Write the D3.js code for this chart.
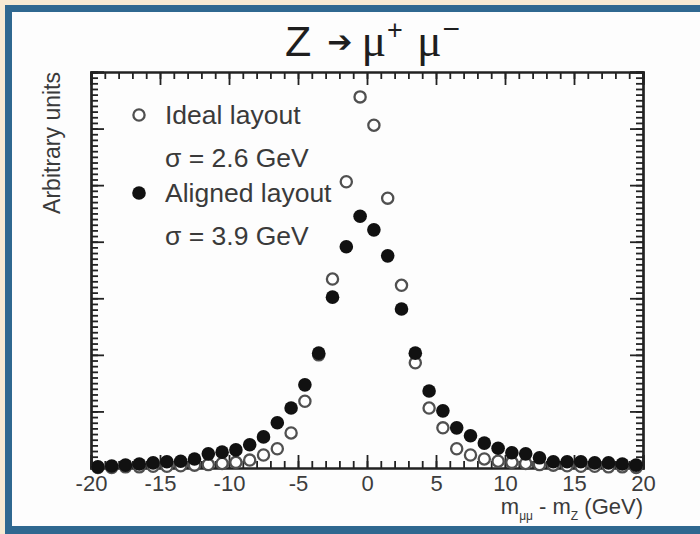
<!DOCTYPE html>
<html>
<head>
<meta charset="utf-8">
<script src="https://cdn.jsdelivr.net/npm/d3@7/dist/d3.min.js"></script>
<style>
  html, body { margin: 0; padding: 0; background: #f6ead3; }
  svg { display: block; }
  .axis path, .axis line { stroke: #222; }
</style>
</head>
<body>
<div id="chart"></div>
<script>
// ---------- data ----------
const binCenters = [-19.5, -18.5, -17.5, -16.5, -15.5, -14.5, -13.5, -12.5, -11.5, -10.5,
  -9.5, -8.5, -7.5, -6.5, -5.5, -4.5, -3.5, -2.5, -1.5, -0.5,
  0.5, 1.5, 2.5, 3.5, 4.5, 5.5, 6.5, 7.5, 8.5, 9.5,
  10.5, 11.5, 12.5, 13.5, 14.5, 15.5, 16.5, 17.5, 18.5, 19.5];

const idealCounts = [0.01, 0.01, 0.02, 0.02, 0.03, 0.03, 0.04, 0.05, 0.06, 0.08,
  0.10, 0.14, 0.23, 0.34, 0.62, 1.18, 2.00, 3.34, 5.06, 6.56,
  6.06, 4.77, 3.23, 1.86, 1.06, 0.71, 0.34, 0.23, 0.16, 0.12,
  0.10, 0.08, 0.06, 0.05, 0.04, 0.03, 0.03, 0.02, 0.02, 0.01];

const alignedCounts = [0.02, 0.035, 0.05, 0.07, 0.09, 0.11, 0.12, 0.16, 0.25, 0.28,
  0.32, 0.41, 0.55, 0.80, 1.06, 1.47, 2.03, 3.02, 3.91, 4.45,
  4.21, 3.75, 2.81, 2.03, 1.36, 1.01, 0.71, 0.57, 0.44, 0.35,
  0.27, 0.25, 0.18, 0.11, 0.11, 0.11, 0.09, 0.09, 0.07, 0.05];

const xMajorTicks = [-20, -15, -10, -5, 0, 5, 10, 15, 20];
const yMajorTicks = [0, 1, 2, 3, 4, 5, 6, 7];

const legendItems = [
  { label: 'Ideal layout', sigma: 'σ = 2.6 GeV', filled: false },
  { label: 'Aligned layout', sigma: 'σ = 3.9 GeV', filled: true }
];

// ---------- layout ----------
const W = 700, H = 534;
const plot = { left: 91, right: 643, top: 72, bottom: 468 };
const FONT = '"Liberation Sans", Arial, Helvetica, sans-serif';
const SERIF = '"Liberation Serif", "Times New Roman", serif';

const svg = d3.select('#chart').append('svg')
  .attr('width', W).attr('height', H);

// background card: beige page, blue frame, white panel
svg.append('rect').attr('width', W).attr('height', H).attr('fill', '#f6ead3');
svg.append('rect').attr('x', 5).attr('y', 5).attr('width', W).attr('height', H)
  .attr('fill', '#2f6890');
svg.append('rect').attr('x', 12).attr('y', 12).attr('width', W).attr('height', 514)
  .attr('fill', '#fdfdfd');

const x = d3.scaleLinear().domain([-20, 20]).range([plot.left, plot.right]);
const y = d3.scaleLinear().domain([0, 7]).range([plot.bottom, plot.top]);

const xMinor = d3.range(-20, 21, 1);
const yMinor = d3.range(0, 7.001, 0.1);
const MAJ = 13, MIN = 7;

// bottom axis (ticks point inward)
const bottomAxis = svg.append('g').attr('class', 'axis')
  .attr('transform', `translate(0,${plot.bottom})`);
bottomAxis.call(d3.axisBottom(x).tickValues(xMinor).tickSize(-MIN).tickFormat(''));
bottomAxis.append('g').call(d3.axisBottom(x).tickValues(xMajorTicks).tickSize(-MAJ)
  .tickPadding(7).tickFormat(d => String(d)));
bottomAxis.selectAll('text').attr('font-size', 22).attr('font-family', FONT).attr('fill', '#3c3c3c');

// top axis
const topAxis = svg.append('g').attr('class', 'axis')
  .attr('transform', `translate(0,${plot.top})`);
topAxis.call(d3.axisTop(x).tickValues(xMinor).tickSize(-MIN).tickFormat(''));
topAxis.append('g').call(d3.axisTop(x).tickValues(xMajorTicks).tickSize(-MAJ).tickFormat(''));

// left axis
const leftAxis = svg.append('g').attr('class', 'axis')
  .attr('transform', `translate(${plot.left},0)`);
leftAxis.call(d3.axisLeft(y).tickValues(yMinor).tickSize(-MIN).tickFormat(''));
leftAxis.append('g').call(d3.axisLeft(y).tickValues(yMajorTicks).tickSize(-MAJ).tickFormat(''));

// right axis
const rightAxis = svg.append('g').attr('class', 'axis')
  .attr('transform', `translate(${plot.right},0)`);
rightAxis.call(d3.axisRight(y).tickValues(yMinor).tickSize(-MIN).tickFormat(''));
rightAxis.append('g').call(d3.axisRight(y).tickValues(yMajorTicks).tickSize(-MAJ).tickFormat(''));

svg.selectAll('.axis path').attr('stroke-width', 2.2);
svg.selectAll('.axis line').attr('stroke-width', 1.8);

// title: Z -> mu+ mu-
const title = svg.append('text')
  .attr('x', 285).attr('y', 56)
  .attr('font-family', FONT).attr('font-size', 43).attr('fill', '#1e1e1e');
title.append('tspan').text('Z');
title.append('tspan').attr('font-family', '"DejaVu Sans", sans-serif')
  .attr('font-size', 30).attr('dy', -4).attr('dx', 16).text('➔');
title.append('tspan').attr('font-family', SERIF).attr('font-size', 46)
  .attr('dy', 4).attr('dx', 9).text('μ');
title.append('tspan').attr('font-size', 27).attr('dy', -17).attr('dx', 1).text('+');
title.append('tspan').attr('font-family', SERIF).attr('font-size', 46)
  .attr('dy', 17).attr('dx', 14).text('μ');
title.append('tspan').attr('font-size', 30).attr('dy', -17).attr('dx', 1).text('−');

// axis titles
svg.append('text')
  .attr('transform', 'rotate(-90)')
  .attr('x', -72).attr('y', 60)
  .attr('text-anchor', 'end')
  .attr('font-family', FONT).attr('font-size', 23).attr('fill', '#3a3a3a')
  .text('Arbitrary units');

const xTitle = svg.append('text')
  .attr('x', plot.right).attr('y', 514)
  .attr('text-anchor', 'end')
  .attr('font-family', FONT).attr('font-size', 22).attr('fill', '#3a3a3a');
xTitle.append('tspan').text('m');
xTitle.append('tspan').attr('font-size', 12).attr('dy', 6).text('μμ');
xTitle.append('tspan').attr('dy', -6).text(' - m');
xTitle.append('tspan').attr('font-size', 12).attr('dy', 6).text('Z');
xTitle.append('tspan').attr('dy', -6).text(' (GeV)');

// ---------- markers ----------
const openData = binCenters.map((c, i) => ({ c, v: idealCounts[i] }));
const fillData = binCenters.map((c, i) => ({ c, v: alignedCounts[i] }));

svg.append('g').selectAll('circle')
  .data(openData).join('circle')
  .attr('cx', d => x(d.c)).attr('cy', d => y(d.v))
  .attr('r', 5.6)
  .attr('fill', '#fff').attr('stroke', '#505050').attr('stroke-width', 2.3);

svg.append('g').selectAll('circle')
  .data(fillData).join('circle')
  .attr('cx', d => x(d.c)).attr('cy', d => y(d.v))
  .attr('r', 6.8)
  .attr('fill', '#111');

// ---------- legend ----------
const legendRows = [115, 193];
legendItems.forEach((item, i) => {
  const ly = legendRows[i];
  const m = svg.append('circle').attr('cx', 139).attr('cy', ly);
  if (item.filled) m.attr('r', 6.8).attr('fill', '#111');
  else m.attr('r', 5.6).attr('fill', '#fff').attr('stroke', '#505050').attr('stroke-width', 2.3);

  svg.append('text')
    .attr('x', 165).attr('y', ly + 9)
    .attr('font-family', FONT).attr('font-size', 26.5).attr('fill', '#3a3a3a')
    .text(item.label);
  svg.append('text')
    .attr('x', 165).attr('y', ly + 52)
    .attr('font-family', FONT).attr('font-size', 26.5).attr('fill', '#3a3a3a')
    .text(item.sigma);
});
</script>
</body>
</html>
